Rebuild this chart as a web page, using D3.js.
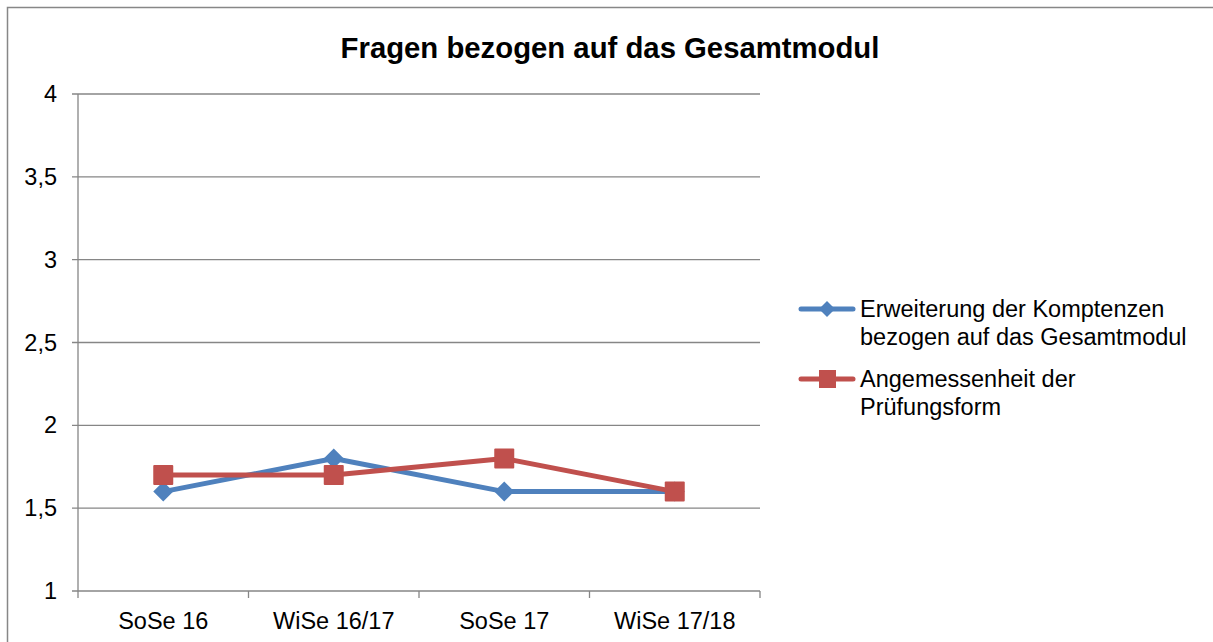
<!DOCTYPE html>
<html><head><meta charset="utf-8">
<script src="https://cdn.jsdelivr.net/npm/d3@7"></script>
<style>body{margin:0;background:#fff}svg{display:block;font-family:"Liberation Sans",Arial,sans-serif}</style>
</head><body><svg id="c" width="1213" height="642"></svg>
<script>
const categories = ["SoSe 16","WiSe 16/17","SoSe 17","WiSe 17/18"];
const seriesNames = ["Erweiterung der Komptenzen bezogen auf das Gesamtmodul","Angemessenheit der Prüfungsform"];
const legendLines = [["Erweiterung der Komptenzen","bezogen auf das Gesamtmodul"],["Angemessenheit der","Prüfungsform"]];
const blueValues = [1.6, 1.8, 1.6, 1.6];
const redValues = [1.7, 1.7, 1.8, 1.6];
const yTicks = [1, 1.5, 2, 2.5, 3, 3.5, 4];
const colors = ["#4F81BD", "#C0504D"];

const svg = d3.select("#c");
svg.append("rect").attr("x",7.5).attr("y",7.5).attr("width",1220).attr("height",650)
  .attr("fill","#fff").attr("stroke","#878787").attr("stroke-width",1.5);

svg.append("text").attr("x",610).attr("y",58).attr("text-anchor","middle")
  .attr("font-size",29.3).attr("font-weight","bold").text("Fragen bezogen auf das Gesamtmodul");

const L=78, R=760, T=94, B=591;
const x = d3.scaleBand().domain(categories).range([L,R]);
const y = d3.scaleLinear().domain([1,4]).range([B,T]);
const fmt = d => d3.format(".1~f")(d).replace(".",",");
const FS = 23.5;

// gridlines
svg.append("g").selectAll("line").data(yTicks).join("line")
  .attr("x1",L-6).attr("x2",R).attr("y1",d=>y(d)).attr("y2",d=>y(d))
  .attr("stroke","#868686").attr("stroke-width",1.3);
// y axis
svg.append("line").attr("x1",L).attr("x2",L).attr("y1",T).attr("y2",B).attr("stroke","#868686").attr("stroke-width",1.3);
svg.append("g").selectAll("text").data(yTicks).join("text")
  .attr("x",57).attr("y",d=>y(d)+8).attr("text-anchor","end").attr("font-size",FS).text(fmt);
// x ticks
const xt = [L, ...categories.map(c=>x(c)+x.bandwidth())];
svg.append("g").selectAll("line").data(xt).join("line")
  .attr("x1",d=>d).attr("x2",d=>d).attr("y1",B).attr("y2",B+7).attr("stroke","#868686").attr("stroke-width",1.3);
svg.append("g").selectAll("text").data(categories).join("text")
  .attr("x",d=>x(d)+x.bandwidth()/2).attr("y",B+38).attr("text-anchor","middle").attr("font-size",FS).text(d=>d);

const cx = c => x(c)+x.bandwidth()/2;
const line = d3.line().x((d,i)=>cx(categories[i])).y(d=>y(d));
const diamond = (px,py,s) => `M${px},${py-s}L${px+s},${py}L${px},${py+s}L${px-s},${py}Z`;

// blue
svg.append("path").datum(blueValues).attr("d",line).attr("fill","none").attr("stroke",colors[0]).attr("stroke-width",5).attr("stroke-linejoin","round");
svg.append("g").selectAll("path").data(blueValues).join("path")
  .attr("d",(d,i)=>diamond(cx(categories[i]),y(d),10)).attr("fill",colors[0]);
// red
svg.append("path").datum(redValues).attr("d",line).attr("fill","none").attr("stroke",colors[1]).attr("stroke-width",5).attr("stroke-linejoin","round");
svg.append("g").selectAll("rect").data(redValues).join("rect")
  .attr("x",(d,i)=>cx(categories[i])-10).attr("y",d=>y(d)-10).attr("width",20).attr("height",20).attr("rx",1).attr("fill",colors[1]);

// legend
const lg = svg.append("g");
const ly = [309, 379];
legendLines.forEach((lines,i)=>{
  lg.append("line").attr("x1",801).attr("x2",853).attr("y1",ly[i]).attr("y2",ly[i]).attr("stroke",colors[i]).attr("stroke-width",5).attr("stroke-linecap","round");
  if(i===0) lg.append("path").attr("d",diamond(827,ly[i],8)).attr("fill",colors[0]);
  else lg.append("rect").attr("x",819).attr("y",ly[i]-9).attr("width",17).attr("height",18).attr("fill",colors[1]);
  lines.forEach((t,j)=>lg.append("text").attr("x",860).attr("y",ly[i]+8+j*27.5).attr("font-size",FS).text(t));
});
</script></body></html>
